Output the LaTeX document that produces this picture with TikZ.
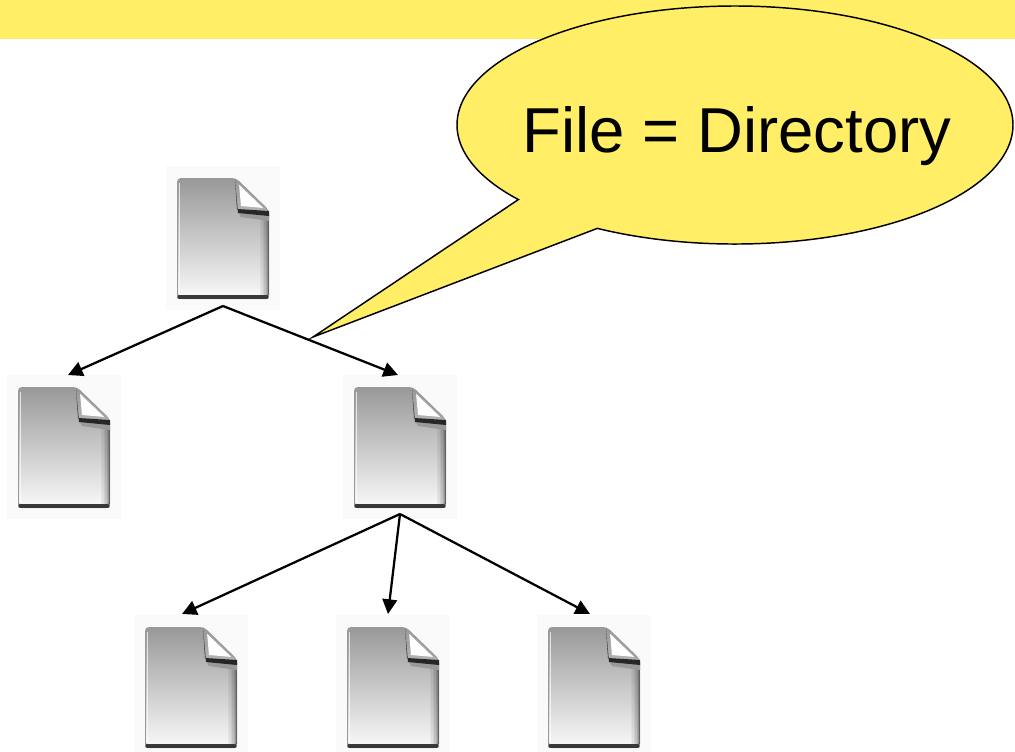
\documentclass[tikz,border=0pt]{standalone}
\usepackage{fontspec}
\setmainfont{Liberation Sans}
\usetikzlibrary{arrows.meta,calc,shapes.callouts}
\definecolor{calloutyellow}{RGB}{255,238,102}
\tikzset{
  iconbox/.style={rectangle,inner sep=0pt,outer sep=0pt,minimum width=69pt,minimum height=90pt},
  treearrow/.style={line width=1.7pt,-{Triangle[length=11pt,width=11pt]}},
  bubble/.style={ellipse callout,draw=black,line width=1.1pt,fill=calloutyellow,
     inner sep=0pt,minimum width=417pt,minimum height=178.5pt},
  docicon/.pic={
    \fill[black!2] (-11,-12) rectangle (103,132);
    \fill[black!40,rounded corners=3pt] (0,0) -- (59,0) -- (92,32) -- (92,121) -- (0,121) -- cycle;
    \shade[top color=black!40,middle color=black!17,bottom color=black!3,rounded corners=2pt]
      (1,1) -- (58,1) -- (91,33) -- (91,118) -- (1,118) -- cycle;
    % right-edge darkening
    \foreach \xx/\op in {90/0.38,88.5/0.28,87/0.2,85.5/0.13,84/0.08,82.5/0.04}
      { \fill[black,opacity=\op] (\xx,33) rectangle (\xx+1.5,117); }
    % left highlight
    \draw[white,line width=1pt,opacity=0.7] (2.5,5) -- (2.5,115);
    % bottom dark edge
    \draw[black!78,line width=2.6pt,line cap=round] (2,119) -- (90,119);
    % fold shadow and flap
    \fill[black!40] (61,33) -- (92,36) -- (92,43) -- (64,39) -- cycle;
    \fill[black!85] (58,1) -- (60,31) -- (92,33) -- (92,38) -- (61,35) -- cycle;
    \fill[white] (62,6) -- (64,28) -- (87,30) -- cycle;
    \draw[black!35,line width=0.6pt] (62,6) -- (87,30);
  }
}
\begin{document}
\begin{tikzpicture}[x=0.75pt,y=-0.75pt]
\useasboundingbox (0,0) rectangle (1015,751);
\fill[calloutyellow] (0,0) rectangle (1015,39);

% icons
\node[iconbox] (root) at (223,238) {};
\node[iconbox] (L) at (64,447) {};
\node[iconbox] (R) at (400,447) {};
\node[iconbox] (BL) at (191,687) {};
\node[iconbox] (BM) at (393,687) {};
\node[iconbox] (BR) at (594,687) {};
\foreach \n in {root,L,R,BL,BM,BR} { \pic at (\n.north west) {docicon}; }

% connectors
\draw[treearrow] ($(root.south)+(0,8)$) -- ($(L.north)+(4,-12)$);
\draw[treearrow] ($(root.south)+(0,8)$) -- ($(R.north)+(-2,-12)$);
\draw[treearrow] ($(R.south)+(0,7)$) -- ($(BL.north)+(-9,-13)$);
\draw[treearrow] ($(R.south)+(0,7)$) -- ($(BM.north)+(-5,-13)$);
\draw[treearrow] ($(R.south)+(0,7)$) -- ($(BR.north)+(-4,-13)$);

% callout
\coordinate (tip) at (313,337);
\node[bubble,callout absolute pointer={(tip)},callout pointer arc=21.5] (bub) at (735,125) {};
\node[font=\fontsize{47.6}{57}\selectfont,anchor=base,inner sep=0pt] (lab) at (737,152) {File = Directory};
\end{tikzpicture}
\end{document}
